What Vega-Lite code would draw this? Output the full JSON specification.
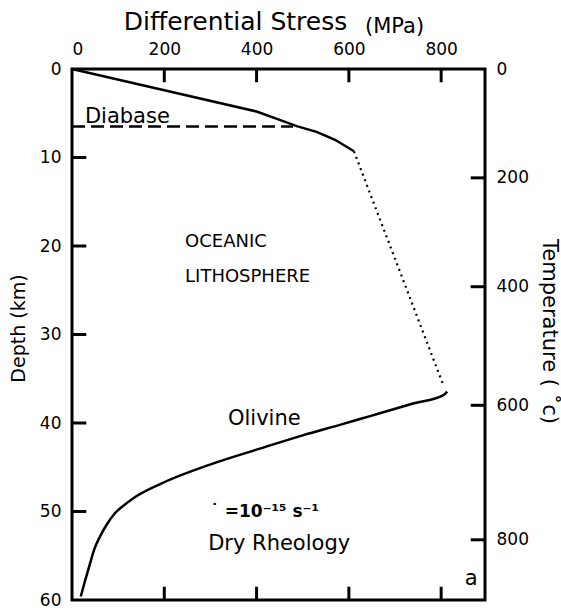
{
  "$schema": "https://vega.github.io/schema/vega-lite/v6.json",
  "width": 413,
  "height": 531,
  "autosize": "none",
  "padding": {"left": 72, "top": 69, "right": 76, "bottom": 8},
  "background": "white",
  "config": {
    "view": {"stroke": "black", "strokeWidth": 3},
    "font": "DejaVu Sans",
    "axis": {
      "domain": false,
      "grid": false,
      "ticks": false,
      "labelColor": "black",
      "labelFontSize": 17,
      "labelFont": "DejaVu Sans",
      "labelPadding": 11,
      "titleFont": "DejaVu Sans",
      "titleColor": "black",
      "titleFontWeight": "normal"
    },
    "text": {"font": "DejaVu Sans", "color": "black", "align": "left", "baseline": "alphabetic"}
  },
  "datasets": {
    "curve": [
      {"part": "diabase", "stress": 0, "depth": 0},
      {"part": "diabase", "stress": 200, "depth": 2.4},
      {"part": "diabase", "stress": 400, "depth": 4.8},
      {"part": "diabase", "stress": 450, "depth": 5.75},
      {"part": "diabase", "stress": 487, "depth": 6.45},
      {"part": "diabase", "stress": 530, "depth": 7.1},
      {"part": "diabase", "stress": 570, "depth": 8.0},
      {"part": "diabase", "stress": 611, "depth": 9.3},
      {"part": "transition", "stress": 611, "depth": 9.3},
      {"part": "transition", "stress": 806, "depth": 35.9},
      {"part": "olivine", "stress": 813, "depth": 36.45},
      {"part": "olivine", "stress": 805, "depth": 36.85},
      {"part": "olivine", "stress": 739, "depth": 37.8},
      {"part": "olivine", "stress": 667, "depth": 38.9},
      {"part": "olivine", "stress": 624, "depth": 39.55},
      {"part": "olivine", "stress": 588, "depth": 40.1},
      {"part": "olivine", "stress": 500, "depth": 41.4},
      {"part": "olivine", "stress": 407, "depth": 42.9},
      {"part": "olivine", "stress": 299, "depth": 44.7},
      {"part": "olivine", "stress": 191, "depth": 46.9},
      {"part": "olivine", "stress": 133, "depth": 48.5},
      {"part": "olivine", "stress": 110, "depth": 49.4},
      {"part": "olivine", "stress": 93, "depth": 50.2},
      {"part": "olivine", "stress": 75, "depth": 51.5},
      {"part": "olivine", "stress": 61, "depth": 52.8},
      {"part": "olivine", "stress": 48, "depth": 54.3},
      {"part": "olivine", "stress": 39, "depth": 55.9},
      {"part": "olivine", "stress": 29, "depth": 57.7},
      {"part": "olivine", "stress": 19, "depth": 59.6}
    ],
    "diabaseLine": [
      {"stress": 0, "depth": 6.5},
      {"stress": 479, "depth": 6.5}
    ],
    "ticks": [
      {"tick": "d10", "stress": 0, "depth": 10}, {"tick": "d10", "stress": 31, "depth": 10},
      {"tick": "d20", "stress": 0, "depth": 20}, {"tick": "d20", "stress": 31, "depth": 20},
      {"tick": "d30", "stress": 0, "depth": 30}, {"tick": "d30", "stress": 31, "depth": 30},
      {"tick": "d40", "stress": 0, "depth": 40}, {"tick": "d40", "stress": 31, "depth": 40},
      {"tick": "d50", "stress": 0, "depth": 50}, {"tick": "d50", "stress": 31, "depth": 50},
      {"tick": "t200", "stress": 895, "depth": 12.3}, {"tick": "t200", "stress": 864, "depth": 12.3},
      {"tick": "t400", "stress": 895, "depth": 24.6}, {"tick": "t400", "stress": 864, "depth": 24.6},
      {"tick": "t600", "stress": 895, "depth": 38}, {"tick": "t600", "stress": 864, "depth": 38},
      {"tick": "t800", "stress": 895, "depth": 53.2}, {"tick": "t800", "stress": 864, "depth": 53.2},
      {"tick": "s200", "stress": 200, "depth": 0}, {"tick": "s200", "stress": 200, "depth": 1.5},
      {"tick": "s400", "stress": 400, "depth": 0}, {"tick": "s400", "stress": 400, "depth": 1.5},
      {"tick": "s600", "stress": 600, "depth": 0}, {"tick": "s600", "stress": 600, "depth": 1.5},
      {"tick": "s800", "stress": 800, "depth": 0}, {"tick": "s800", "stress": 800, "depth": 1.5},
      {"tick": "b200", "stress": 200, "depth": 60}, {"tick": "b200", "stress": 200, "depth": 58.5},
      {"tick": "b400", "stress": 400, "depth": 60}, {"tick": "b400", "stress": 400, "depth": 58.5},
      {"tick": "b600", "stress": 600, "depth": 60}, {"tick": "b600", "stress": 600, "depth": 58.5},
      {"tick": "b800", "stress": 800, "depth": 60}, {"tick": "b800", "stress": 800, "depth": 58.5}
    ],
    "labels": [
      {"text": "Diabase", "stress": 28, "depth": 6.1},
      {"text": "Olivine", "stress": 338, "depth": 40.2},
      {"text": "Dry Rheology", "stress": 295, "depth": 54.4},
      {"text": "a", "stress": 851, "depth": 58.3}
    ],
    "caps": [
      {"text": "OCEANIC", "stress": 245, "depth": 20.1},
      {"text": "LITHOSPHERE", "stress": 245, "depth": 24.1}
    ],
    "unit": [
      {"text": "(MPa)", "stress": 635, "depth": -4.1}
    ],
    "rate": [
      {"text": "˙", "stress": 300, "depth": 50.6},
      {"text": "=10⁻¹⁵ s⁻¹", "stress": 331, "depth": 50.6}
    ]
  },
  "layer": [
    {
      "data": {"name": "curve"},
      "transform": [{"filter": "datum.part == 'diabase'"}],
      "mark": {"type": "line", "color": "black", "strokeWidth": 2.5},
      "encoding": {
        "x": {"field": "stress", "type": "quantitative", "scale": {"domain": [0, 895], "nice": false, "zero": false},
          "axis": {"orient": "top", "values": [0, 200, 400, 600, 800], "title": "Differential Stress", "titleFontSize": 25, "titleX": 163, "titleY": -40, "titleAlign": "center", "titleBaseline": "alphabetic"}},
        "y": {"field": "depth", "type": "quantitative", "scale": {"domain": [0, 60], "reverse": true, "nice": false, "zero": false},
          "axis": {"orient": "left", "values": [0, 10, 20, 30, 40, 50, 60], "title": "Depth (km)", "titleFontSize": 19, "titleX": -54, "titleY": 259, "titleAngle": -90, "titleAlign": "center", "titleBaseline": "middle"}},
        "order": {"field": "stress", "type": "quantitative"}
      }
    },
    {
      "data": {"name": "curve"},
      "transform": [{"filter": "datum.part == 'olivine'"}],
      "mark": {"type": "line", "color": "black", "strokeWidth": 2.5, "interpolate": "monotone"},
      "encoding": {
        "x": {"field": "stress", "type": "quantitative", "scale": {"domain": [0, 895], "nice": false, "zero": false},
          "axis": null},
        "y": {"field": "depth", "type": "quantitative", "scale": {"domain": [0, 60], "reverse": true, "nice": false, "zero": false},
          "axis": {"orient": "right", "values": [0, 12.3, 24.6, 38, 53.2],
            "labelExpr": "datum.value < 6 ? '0' : datum.value < 18 ? '200' : datum.value < 30 ? '400' : datum.value < 45 ? '600' : '800'",
            "title": "Temperature ( ˚c)", "titleFontSize": 21, "titleX": 63, "titleY": 262, "titleAngle": 90, "titleAlign": "center", "titleBaseline": "middle"}},
        "order": {"field": "stress", "type": "quantitative"}
      }
    },
    {
      "data": {"name": "curve"},
      "transform": [{"filter": "datum.part == 'transition'"}],
      "mark": {"type": "line", "color": "black", "strokeWidth": 2.2, "strokeDash": [2, 4]},
      "encoding": {
        "x": {"field": "stress", "type": "quantitative", "axis": null},
        "y": {"field": "depth", "type": "quantitative", "axis": null},
        "order": {"field": "depth", "type": "quantitative"}
      }
    },
    {
      "data": {"name": "diabaseLine"},
      "mark": {"type": "line", "color": "black", "strokeWidth": 2.5, "strokeDash": [13, 6]},
      "encoding": {
        "x": {"field": "stress", "type": "quantitative", "axis": null},
        "y": {"field": "depth", "type": "quantitative", "axis": null}
      }
    },
    {
      "data": {"name": "ticks"},
      "mark": {"type": "line", "color": "black", "strokeWidth": 3},
      "encoding": {
        "x": {"field": "stress", "type": "quantitative", "axis": null},
        "y": {"field": "depth", "type": "quantitative", "axis": null},
        "detail": {"field": "tick", "type": "nominal"}
      }
    },
    {
      "data": {"name": "labels"},
      "mark": {"type": "text", "fontSize": 21},
      "encoding": {
        "x": {"field": "stress", "type": "quantitative", "axis": null},
        "y": {"field": "depth", "type": "quantitative", "axis": null},
        "text": {"field": "text"}
      }
    },
    {
      "data": {"name": "caps"},
      "mark": {"type": "text", "fontSize": 18},
      "encoding": {
        "x": {"field": "stress", "type": "quantitative", "axis": null},
        "y": {"field": "depth", "type": "quantitative", "axis": null},
        "text": {"field": "text"}
      }
    },
    {
      "data": {"name": "unit"},
      "mark": {"type": "text", "fontSize": 21},
      "encoding": {
        "x": {"field": "stress", "type": "quantitative", "axis": null},
        "y": {"field": "depth", "type": "quantitative", "axis": null},
        "text": {"field": "text"}
      }
    },
    {
      "data": {"name": "rate"},
      "mark": {"type": "text", "fontSize": 17, "fontWeight": "bold"},
      "encoding": {
        "x": {"field": "stress", "type": "quantitative", "axis": null},
        "y": {"field": "depth", "type": "quantitative", "axis": null},
        "text": {"field": "text"}
      }
    }
  ],
  "resolve": {"axis": {"x": "independent", "y": "independent"}}
}
